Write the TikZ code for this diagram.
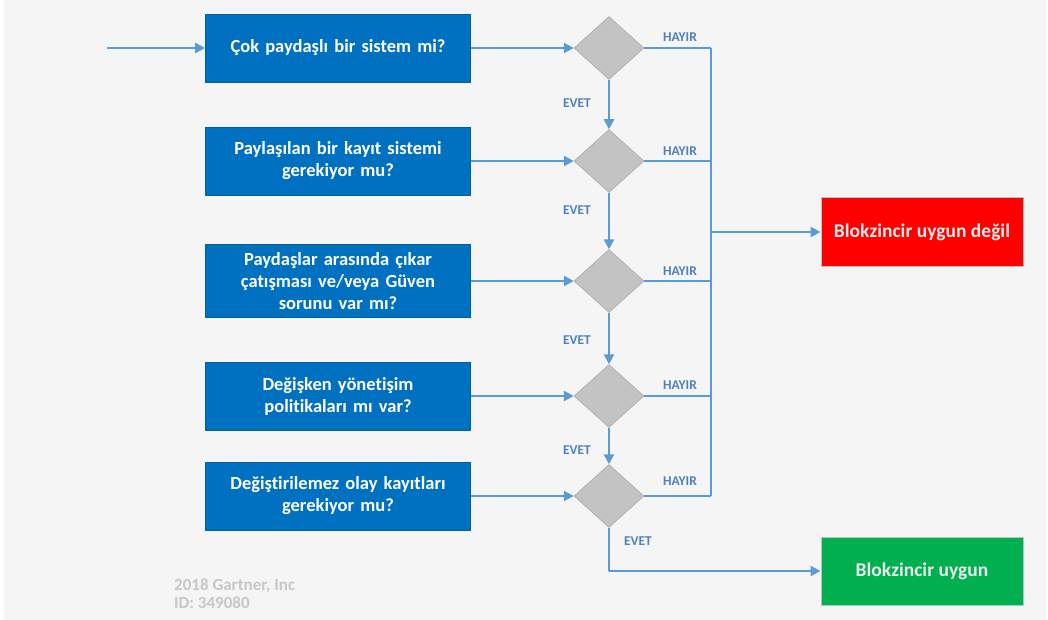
\documentclass[tikz,border=0pt]{standalone}
\usepackage{fontspec}
\setmainfont[Ligatures=NoCommon]{Carlito}
\usetikzlibrary{shapes.geometric,arrows.meta}
\definecolor{boxblue}{HTML}{0070C0}
\definecolor{flowline}{HTML}{5B9BD5}
\definecolor{labelblue}{HTML}{4F81BD}
\definecolor{okgreen}{HTML}{00B050}
\definecolor{diagray}{HTML}{C3C3C3}
\definecolor{paper}{HTML}{F5F5F5}
\tikzset{
  question/.style={rectangle, fill=boxblue, draw=boxblue!85!black, line width=0.6pt,
    minimum width=265pt, minimum height=68pt, text width=255pt, align=center,
    text=white, font=\bfseries\fontsize{18.5}{22}\selectfont},
  result/.style={rectangle, draw=black!25, line width=1pt, minimum width=202pt,
    minimum height=68pt, text=white!92!black, font=\bfseries\fontsize{19.5}{22}\selectfont},
  decision/.style={diamond, fill=diagray, draw=diagray!85!black, line width=0.5pt,
    minimum width=70pt, minimum height=63pt, inner sep=0pt},
  flow/.style={draw=flowline, line width=2.8pt},
  tag/.style={text=labelblue, font=\bfseries\fontsize{13.5}{15}\selectfont, inner sep=1pt}
}
\begin{document}
\begin{tikzpicture}[x=1pt, y=-1pt, line join=round,
  >={Triangle[length=10pt,width=10pt]}]
% background
\fill[white] (0,0) rectangle (1048,620);
\fill[paper] (4,0) rectangle (1046,620);
\useasboundingbox (0,0) rectangle (1048,620);

% questions
\node[question] (q1) at (338,48) {Çok paydaşlı bir sistem mi?};
\node[question] (q2) at (338,161) {Paylaşılan bir kayıt sistemi\\gerekiyor mu?};
\node[question, minimum height=73pt] (q3) at (338,281) {Paydaşlar arasında çıkar\\çatışması ve/veya Güven\\sorunu var mı?};
\node[question] (q4) at (338,396) {Değişken yönetişim\\politikaları mı var?};
\node[question] (q5) at (338,496) {Değiştirilemez olay kayıtları\\gerekiyor mu?};

% decisions
\foreach \i/\y in {1/48, 2/161, 3/281, 4/396, 5/496}
  \node[decision] (d\i) at (609,\y) {};

% results
\node[result, fill=red] (no) at (922,232) {Blokzincir uygun değil};
\node[result, fill=okgreen] (yes) at (922,571) {Blokzincir uygun};

\coordinate (start) at (107,48);
\coordinate (bustop) at (711,48);
\coordinate (busbot) at (711,496);

% connectors
\draw[flow,->] (start) -- (q1);
\foreach \i in {1,...,5}
  \draw[flow,->] (q\i.east) -- (d\i.west);
\foreach \i/\j in {1/2, 2/3, 3/4, 4/5}
  \draw[flow,->] (d\i.south) -- (d\j.north);
\foreach \i in {1,...,5}
  \draw[flow] (d\i.east) -- (d\i.east -| bustop);
\draw[flow] (bustop) -- (busbot);
\draw[flow,->] (no.west -| bustop) -- (no.west);
\draw[flow,->] (d5.south) |- (yes.west);

% labels
\foreach \i/\y in {1/37, 2/151, 3/271, 4/385, 5/481}
  \node[tag] (hayir\i) at (680,\y) {HAYIR};
\node[tag] (evet1) at (577,103) {EVET};
\node[tag] (evet2) at (577,210) {EVET};
\node[tag] (evet3) at (577,340) {EVET};
\node[tag] (evet4) at (577,450) {EVET};
\node[tag] (evet5) at (638,541) {EVET};

% source
\node[anchor=north west, align=left, text=black!22, inner sep=0pt,
  font=\bfseries\fontsize{17}{18}\selectfont] (src) at (174,579)
  {2018 Gartner, Inc\\ID: 349080};
\end{tikzpicture}
\end{document}
